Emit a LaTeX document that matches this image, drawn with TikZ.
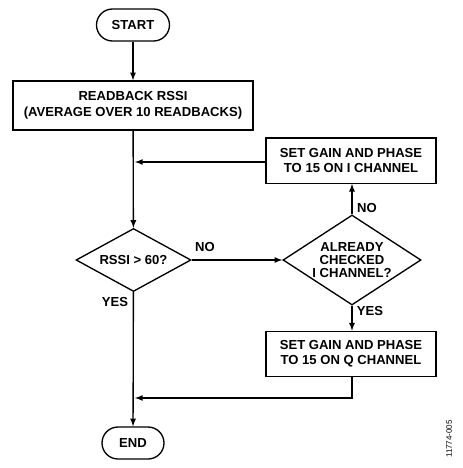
\documentclass[tikz,border=0pt]{standalone}
\usepackage{fontspec}
\setmainfont{Liberation Sans}
\usetikzlibrary{positioning,shapes.geometric,arrows}
\tikzset{
terminal/.style={draw,line width=1pt,rounded corners=12pt,minimum height=24pt,inner sep=0pt,font=\fontsize{9.8}{11.5}\selectfont\bfseries},
process/.style={draw,line width=1pt,rectangle,align=center,inner sep=0pt,minimum width=127.5pt,minimum height=34pt,font=\fontsize{9.8}{11.5}\selectfont\bfseries},
decision/.style={draw,line width=1pt,diamond,align=center,inner sep=0pt,font=\fontsize{9.8}{10}\selectfont\bfseries},
flowlabel/.style={inner sep=0pt,font=\fontsize{9.8}{11.5}\selectfont\bfseries}}

\begin{document}
\begin{tikzpicture}[x=0.75pt,y=0.75pt,yscale=-1,xscale=1,>=latex]
\useasboundingbox (0,0) rectangle (463,468);
% Terminals
\node [terminal,minimum width=54.75pt] (start) at (133,25) {START};
\node [terminal,minimum width=46.5pt] (finish) at (133,443) {END};
% Process boxes
\node [process,minimum width=180pt,minimum height=36.75pt,font=\fontsize{9.8}{12}\selectfont\bfseries] (readback) at (133,105.5) {READBACK RSSI\\(AVERAGE OVER 10 READBACKS)};
\node [process] (ichan) at (351,160.5) {SET GAIN AND PHASE\\TO 15 ON I CHANNEL};
\node [process] (qchan) at (351,354) {SET GAIN AND PHASE\\TO 15 ON Q CHANNEL};
% Decisions
\node [decision,shape aspect=1.83,minimum width=86.25pt,minimum height=47.25pt] (rssi) at (133.5,260) {RSSI > 60?};
\node [decision,shape aspect=1.53,minimum width=103.5pt,minimum height=67.5pt] (checked) at (352,260) {ALREADY\\CHECKED\\I CHANNEL?};
% Join points on the main line
\coordinate (joinI) at (135,162);
\coordinate (joinQ) at (135,398);

%Connectors
\draw [line width=1pt,->] (start) -- (readback);
\draw [line width=1pt,->] (readback) -- (rssi);
\draw [line width=1pt,->] (ichan.west |- joinI) -- (joinI);
\draw [line width=1pt,->] (rssi) -- (checked);
\draw [line width=1pt,->] (checked.north) -- (ichan.south -| checked.north);
\draw [line width=1pt,->] (checked.south) -- (qchan.north -| checked.south);
\draw [line width=1pt,->] (qchan.south -| checked.south) |- (joinQ);
\draw [line width=1pt,->] (rssi) -- (finish);

% Labels
\node [flowlabel] (lblno) at (205,247) {NO};
\node [flowlabel] (lblnoup) at (367,208) {NO};
\node [flowlabel] (lblyes) at (115,302) {YES};
\node [flowlabel] (lblyesdn) at (370,311) {YES};
\node [inner sep=0pt,rotate=90,font=\fontsize{6}{6}\selectfont] (figid) at (449,439) {11774-005};
\end{tikzpicture}
\end{document}
